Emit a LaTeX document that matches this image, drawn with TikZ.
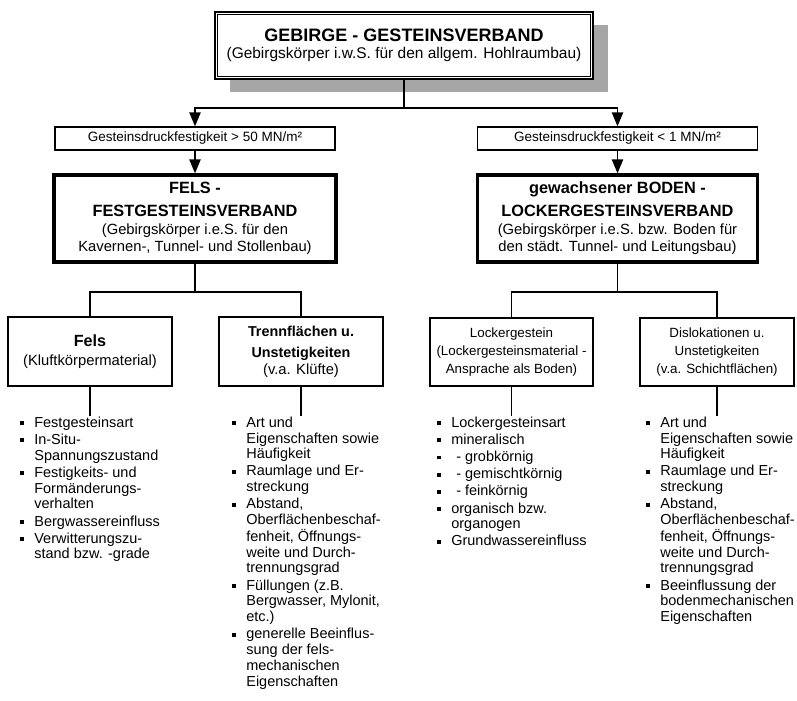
\documentclass[tikz,border=0pt]{standalone}
\usepackage{fontspec}
\setmainfont{Liberation Sans}
\usetikzlibrary{arrows.meta,positioning,calc,shadows}

\newcommand{\blt}{\makebox[10pt][l]{\raisebox{1.6pt}{\rule{2.7pt}{2.7pt}}}}
\newcommand{\ttl}[1]{{\fontsize{11.6}{14}\selectfont\bfseries #1}}

\begin{document}
\begin{tikzpicture}[
x=0.025cm,
y=-0.025cm,
every node/.style={font=\fontsize{10.5}{12.5}\selectfont},
hauptbox/.style={rectangle,draw,line width=1.5pt,fill=white,align=center,inner sep=2pt,minimum width=9.45cm,minimum height=1.675cm,
  drop shadow={shadow xshift=0.375cm,shadow yshift=-0.325cm,fill=black!35,opacity=1}},
kriterium/.style={rectangle,draw,line width=0.9pt,fill=white,align=center,inner sep=1pt,minimum width=7cm,minimum height=0.575cm,font=\fontsize{9.6}{11}\selectfont},
verband/.style={rectangle,draw,line width=2.3pt,fill=white,align=center,inner sep=2pt,minimum width=7.05cm,minimum height=2.175cm},
teil/.style={rectangle,draw,line width=1pt,fill=white,align=center,inner sep=2pt,minimum width=4.1cm,minimum height=1.725cm},
liste/.style={anchor=north west,inner sep=0pt,align=left,font=\fontsize{10.3}{11.2}\selectfont},
lin/.style={line width=1.2pt},
arr/.style={lin,-{Triangle[length=0.35cm,width=0.28cm]}}
]
\useasboundingbox (0,0) rectangle (797,701);

\node[hauptbox] (gebirge) at (404,45.5) {{\fontsize{12.8}{14}\selectfont\bfseries GEBIRGE - GESTEINSVERBAND}\\[-0.5pt]
  {\fontsize{11}{13}\selectfont (Gebirgskörper i.w.S. für den allgem. Hohlraumbau)}};
\draw[line width=0.7pt] ($(gebirge.north west)+(4,4)$) rectangle ($(gebirge.south east)+(-4,-4)$);
\coordinate (split) at (404,108);

\node[kriterium] (druckfest) at (195,138.5) {Gesteinsdruckfestigkeit > 50 MN/m²};
\node[kriterium] (druckweich) at (617.5,138.5) {Gesteinsdruckfestigkeit < 1 MN/m²};

\node[verband] (fels) at (195,218.5) {\ttl{FELS -}\\[3.5pt]\ttl{FESTGESTEINSVERBAND}\\[0.3pt]
  (Gebirgskörper i.e.S. für den\\Kavernen-, Tunnel- und Stollenbau)};
\node[verband,minimum width=7cm] (boden) at (617.5,218.5) {\ttl{gewachsener BODEN -}\\[3.5pt]\ttl{LOCKERGESTEINSVERBAND}\\[0.3pt]
  (Gebirgskörper i.e.S. bzw. Boden für\\den städt. Tunnel- und Leitungsbau)};
\coordinate (felssplit) at (195,292);
\coordinate (bodensplit) at (617.5,292);

\node[teil] (kluft) at (90,351.5) {{\fontsize{11.5}{13}\selectfont\bfseries Fels}\\[1pt](Kluftkörpermaterial)};
\node[teil] (trenn) at (301,351.5) {{\fontsize{10.2}{13}\selectfont\bfseries Trennflächen u.}\\[2.5pt]
  {\fontsize{10.2}{13}\selectfont\bfseries Unstetigkeiten}\\[-0.5pt](v.a. Klüfte)};
\node[teil,minimum width=4.075cm,minimum height=1.7cm,font=\fontsize{9.5}{13}\selectfont] (locker) at (511.5,352)
  {Lockergestein\\(Lockergesteinsmaterial -\\Ansprache als Boden)};
\node[teil,minimum width=3.85cm,minimum height=1.7cm,font=\fontsize{9.5}{13}\selectfont] (disl) at (717,352)
  {Dislokationen u.\\Unstetigkeiten\\(v.a. Schichtflächen)};

\node[liste] (kluftlist) at (20,416) {\begin{tabular}{@{}l@{}l@{}}
\blt & Festgesteinsart\\[1pt]
\blt & In-Situ-\\ & Spannungszustand\\[1pt]
\blt & Festigkeits- und\\ & Formänderungs-\\ & verhalten\\[1pt]
\blt & Bergwassereinfluss\\[1pt]
\blt & Verwitterungszu-\\ & stand bzw. -grade
\end{tabular}};
\node[liste] (trennlist) at (232,416) {\begin{tabular}{@{}l@{}l@{}}
\blt & Art und\\ & Eigenschaften sowie\\ & Häufigkeit\\[1pt]
\blt & Raumlage und Er-\\ & streckung\\[1pt]
\blt & Abstand,\\ & Oberflächenbeschaf-\\ & fenheit, Öffnungs-\\ & weite und Durch-\\ & trennungsgrad\\[1pt]
\blt & Füllungen (z.B.\\ & Bergwasser, Mylonit,\\ & etc.)\\[1pt]
\blt & generelle Beeinflus-\\ & sung der fels-\\ & mechanischen\\ & Eigenschaften
\end{tabular}};
\node[liste] (lockerlist) at (437,416) {\begin{tabular}{@{}l@{}l@{}}
\blt & Lockergesteinsart\\[1pt]
\blt & mineralisch\\[1pt]
\blt & \hspace{3.5pt}- grobkörnig\\[1pt]
\blt & \hspace{3.5pt}- gemischtkörnig\\[1pt]
\blt & \hspace{3.5pt}- feinkörnig\\[1pt]
\blt & organisch bzw.\\ & organogen\\[1pt]
\blt & Grundwassereinfluss
\end{tabular}};
\node[liste] (disllist) at (646,416) {\begin{tabular}{@{}l@{}l@{}}
\blt & Art und\\ & Eigenschaften sowie\\ & Häufigkeit\\[1pt]
\blt & Raumlage und Er-\\ & streckung\\[1pt]
\blt & Abstand,\\ & Oberflächenbeschaf-\\ & fenheit, Öffnungs-\\ & weite und Durch-\\ & trennungsgrad\\[1pt]
\blt & Beeinflussung der\\ & bodenmechanischen\\ & Eigenschaften
\end{tabular}};

\draw[lin] (gebirge) -- (split);
\draw[arr] (split) -| (druckfest);
\draw[arr] (split) -| (druckweich);
\draw[arr] (druckfest) -- (fels);
\draw[arr] (druckweich) -- (boden);

\draw[lin] (fels) -- (felssplit);
\draw[lin] (felssplit) -| (kluft);
\draw[lin] (felssplit) -| (trenn);
\draw[lin] (boden) -- (bodensplit);
\draw[lin] (bodensplit) -| (locker);
\draw[lin] (bodensplit) -| (disl);

\draw[lin] (kluft) -- (kluft |- kluftlist.north);
\draw[lin] (trenn) -- (trenn |- trennlist.north);
\draw[lin] (locker) -- (locker |- lockerlist.north);
\draw[lin] (disl) -- (disl |- disllist.north);
\end{tikzpicture}
\end{document}
